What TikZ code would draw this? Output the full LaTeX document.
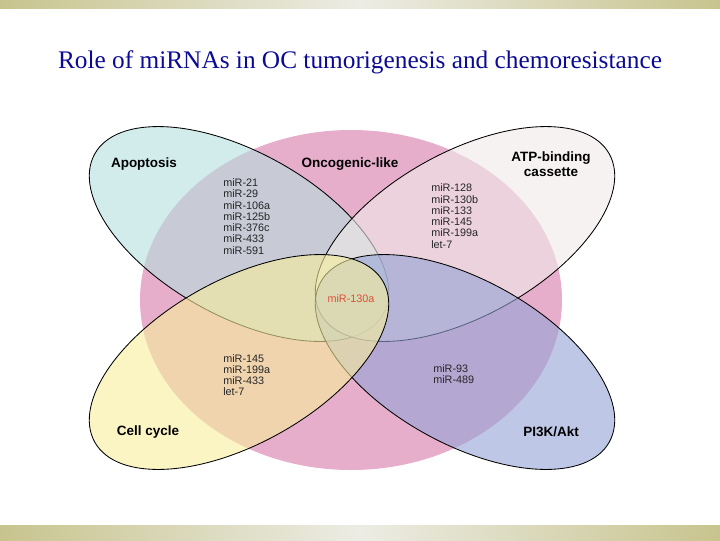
\documentclass[tikz,border=0pt]{standalone}
\usepackage{fontspec}
\setmainfont{Liberation Serif}
\setsansfont{Liberation Sans}
\usepackage{tikz}
\usetikzlibrary{positioning}
\usepackage{xcolor}
\definecolor{titleblue}{RGB}{10,10,150}
\definecolor{barolive}{RGB}{200,196,142}
\definecolor{barlight}{RGB}{236,236,228}
\definecolor{oncopink}{RGB}{231,174,204}
\definecolor{apocyan}{RGB}{180,222,222}
\definecolor{atpcream}{RGB}{240,234,231}
\definecolor{cellyellow}{RGB}{247,238,155}
\definecolor{pikblue}{RGB}{147,163,213}
\definecolor{mirred}{RGB}{222,78,58}

\begin{document}
\begin{tikzpicture}[
    x=0.025cm, y=-0.025cm,
    setname/.style={font=\sffamily\bfseries\fontsize{9.6}{10.5}\selectfont,
        inner sep=0pt, align=center},
    mirlist/.style={font=\sffamily\fontsize{7.7}{8}\selectfont,
        align=left, anchor=west, inner sep=0pt, text=black!85},
    vennset/.style={fill opacity=0.6, draw=black, line width=0.6pt}
]
\useasboundingbox (0,0) rectangle (720,540);
% slide bars
\shade[left color=barolive, right color=barolive, middle color=barlight] (0,0) rectangle (720,8);
\shade[left color=barolive, right color=barolive, middle color=barlight] (0,525) rectangle (720,540);
\node[font=\fontsize{18}{20}\selectfont, text=titleblue] (title) at (360,62)
    {Role of miRNAs in OC tumorigenesis and chemoresistance};

% sets
\fill[oncopink] (351,300) ellipse [x radius=211, y radius=170];
\draw[vennset, fill=apocyan, rotate around={-29:(239,234)}] (239,234) ellipse [x radius=165, y radius=82];
\draw[vennset, fill=atpcream, rotate around={29:(465,234)}] (465,234) ellipse [x radius=165, y radius=82];
\draw[vennset, fill=pikblue, rotate around={-29:(465,362)}] (465,362) ellipse [x radius=165, y radius=82];
\draw[vennset, fill=cellyellow, rotate around={29:(239,362)}] (239,362) ellipse [x radius=165, y radius=82];

% set names
\node[setname] (apoptosis) at (144,164) {Apoptosis};
\node[setname] (oncogenic) at (350,164) {Oncogenic-like};
\node[setname] (atp) at (551,164) {ATP-binding\\cassette};
\node[setname] (cellcycle) at (148,432) {Cell cycle};
\node[setname] (pik) at (551,432) {PI3K/Akt};

% miRNAs
\node[mirlist] (apolist) at (223,216.5)
    {miR-21\\miR-29\\miR-106a\\miR-125b\\miR-376c\\miR-433\\miR-591};
\node[mirlist] (atplist) at (431,216)
    {miR-128\\miR-130b\\miR-133\\miR-145\\miR-199a\\let-7};
\node[mirlist] (celllist) at (223,375)
    {miR-145\\miR-199a\\miR-433\\let-7};
\node[mirlist] (piklist) at (433,374) {miR-93\\miR-489};
\node[mirlist, anchor=center, text=mirred] (core) at (351,299) {miR-130a};
\end{tikzpicture}
\end{document}
